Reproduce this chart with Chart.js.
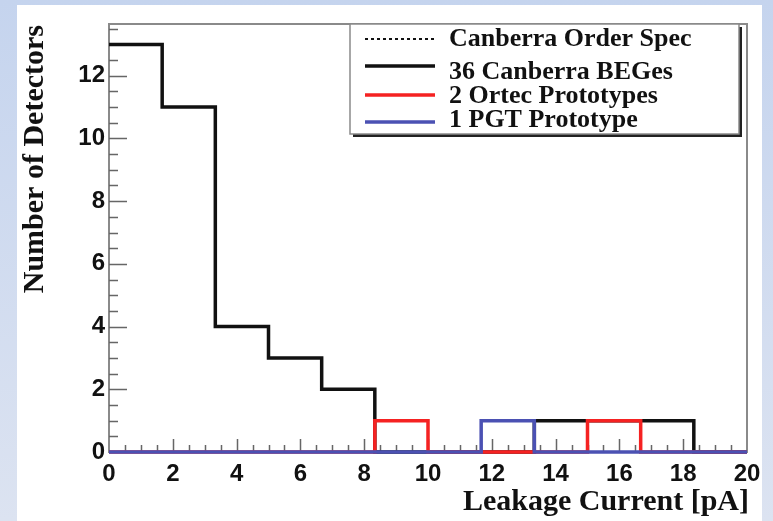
<!DOCTYPE html>
<html>
<head>
<meta charset="utf-8">
<title>Leakage Current</title>
<script src="https://cdn.jsdelivr.net/npm/chart.js@4.4.1/dist/chart.umd.min.js"></script>
<style>
  html, body { margin: 0; padding: 0; width: 773px; height: 521px; overflow: hidden; background: #fff; }
  canvas { display: block; }
</style>
</head>
<body>
<canvas id="c" width="773" height="521"></canvas>
<script>
// Histogram bin edges (pA) and counts per bin
const binEdges = [0, 1.667, 3.333, 5, 6.667, 8.333, 10, 11.667, 13.333, 15, 16.667, 18.333, 20];
const canberraCounts = [13, 11, 4, 3, 2, 0, 0, 0, 1, 1, 1, 0];
const ortecCounts    = [0, 0, 0, 0, 0, 1, 0, 0, 0, 1, 0, 0];
const pgtCounts      = [0, 0, 0, 0, 0, 0, 0, 1, 0, 0, 0, 0];
const orderSpec      = []; // spec limit lies outside the plotted range

const seriesLabels = ['Canberra Order Spec', '36 Canberra BEGes', '2 Ortec Prototypes', '1 PGT Prototype'];
const xTickValues = [0, 2, 4, 6, 8, 10, 12, 14, 16, 18, 20];
const yTickValues = [0, 2, 4, 6, 8, 10, 12];
const xTitle = 'Leakage Current [pA]';
const yTitle = 'Number of Detectors';

// turn bin edges + counts into step points (value holds until next edge)
function histPoints(counts) {
  const pts = counts.map((c, i) => ({ x: binEdges[i], y: c }));
  pts.push({ x: binEdges[binEdges.length - 1], y: counts[counts.length - 1] });
  return pts;
}

const tickFont = { family: 'Liberation Sans', size: 24, weight: 'bold' };

const backdrop = {
  id: 'backdrop',
  beforeDraw(chart) {
    const ctx = chart.ctx;
    const g = ctx.createLinearGradient(0, 0, 0, chart.height);
    g.addColorStop(0, '#c5d4ee');
    g.addColorStop(1, '#dce3f1');
    ctx.save();
    ctx.fillStyle = g;
    ctx.fillRect(0, 0, chart.width, chart.height);
    ctx.fillStyle = '#ffffff';
    ctx.fillRect(17, 5, 745, chart.height - 5);
    ctx.restore();
  }
};

// plot frame with inward minor/major tick marks
const frame = {
  id: 'frame',
  beforeDatasetsDraw(chart) {
    const { ctx, chartArea: a, scales: { x, y } } = chart;
    ctx.save();
    ctx.strokeStyle = '#8a8a8a';
    ctx.lineWidth = 2;
    ctx.strokeRect(a.left, a.top, a.right - a.left, a.bottom - a.top);
    ctx.strokeStyle = '#666';
    ctx.lineWidth = 1.5;
    ctx.beginPath();
    for (let v = 0.5; v < 20; v += 0.5) {
      const px = Math.round(x.getPixelForValue(v)) + 0.5;
      const len = (v % 2 === 0) ? 13 : 7;
      ctx.moveTo(px, a.bottom);
      ctx.lineTo(px, a.bottom - len);
    }
    for (let v = 0.5; v < y.max; v += 0.5) {
      const py = Math.round(y.getPixelForValue(v)) + 0.5;
      const len = (v % 2 === 0) ? 18 : 9;
      ctx.moveTo(a.left, py);
      ctx.lineTo(a.left + len, py);
    }
    ctx.stroke();
    ctx.restore();
  }
};

// axis titles and boxed legend with drop shadow
const annotations = {
  id: 'annotations',
  afterDraw(chart) {
    const ctx = chart.ctx;
    ctx.save();
    ctx.fillStyle = '#111';
    ctx.font = 'bold 30px "Liberation Serif"';
    ctx.textBaseline = 'alphabetic';
    ctx.textAlign = 'right';
    ctx.fillText(xTitle, 749, 510);
    ctx.save();
    ctx.translate(43, 25);
    ctx.rotate(-Math.PI / 2);
    ctx.fillText(yTitle, 0, 0);
    ctx.restore();

    // legend box
    const bx = 350, by = 24, bw = 389, bh = 110;
    ctx.fillStyle = '#222';
    ctx.fillRect(bx + 3, by + 3, bw, bh);
    ctx.fillStyle = '#fff';
    ctx.fillRect(bx, by, bw, bh);
    ctx.strokeStyle = '#8a8a8a';
    ctx.lineWidth = 1.5;
    ctx.strokeRect(bx, by, bw, bh);

    const lineY = [39, 66, 95, 122];
    const textY = [46, 79, 102.5, 127];
    ctx.font = 'bold 26px "Liberation Serif"';
    ctx.textAlign = 'left';
    chart.data.datasets.forEach((ds, i) => {
      ctx.strokeStyle = ds.borderColor;
      ctx.lineWidth = ds.borderWidth;
      ctx.setLineDash(ds.borderDash || []);
      ctx.beginPath();
      ctx.moveTo(365, lineY[i]);
      ctx.lineTo(435, lineY[i]);
      ctx.stroke();
      ctx.setLineDash([]);
      ctx.fillStyle = '#111';
      ctx.fillText(ds.label, 449, textY[i]);
    });
    ctx.restore();
  }
};

const common = { pointRadius: 0, fill: false, stepped: 'before', tension: 0, clip: false,
                 borderJoinStyle: 'miter', borderCapStyle: 'butt' };

new Chart(document.getElementById('c'), {
  type: 'line',
  data: {
    datasets: [
      { ...common, label: seriesLabels[0], data: orderSpec, borderColor: '#111', borderWidth: 2, borderDash: [3, 3], order: 3 },
      { ...common, label: seriesLabels[1], data: histPoints(canberraCounts), borderColor: '#111', borderWidth: 3.5, order: 2 },
      { ...common, label: seriesLabels[2], data: histPoints(ortecCounts), borderColor: '#f52222', borderWidth: 3.5, order: 1 },
      { ...common, label: seriesLabels[3], data: histPoints(pgtCounts), borderColor: '#4b51b3', borderWidth: 3.5, order: 0 }
    ]
  },
  options: {
    responsive: false,
    animation: false,
    events: [],
    layout: { padding: { top: 24, right: 26, left: 0, bottom: 0 } },
    plugins: { legend: { display: false }, tooltip: { enabled: false } },
    scales: {
      x: {
        type: 'linear', min: 0, max: 20,
        afterBuildTicks: s => { s.ticks = xTickValues.map(v => ({ value: v })); },
        afterFit: s => { s.height = 69; },
        grid: { display: false, drawTicks: false },
        border: { display: false },
        ticks: { font: tickFont, color: '#111', padding: 8, maxRotation: 0, autoSkip: false }
      },
      y: {
        type: 'linear', min: 0, max: 13.65,
        afterBuildTicks: s => { s.ticks = yTickValues.map(v => ({ value: v })); },
        afterFit: s => { s.width = 109; },
        grid: { display: false, drawTicks: false },
        border: { display: false },
        ticks: { font: tickFont, color: '#111', padding: 4, autoSkip: false }
      }
    }
  },
  plugins: [backdrop, frame, annotations]
});
</script>
</body>
</html>
